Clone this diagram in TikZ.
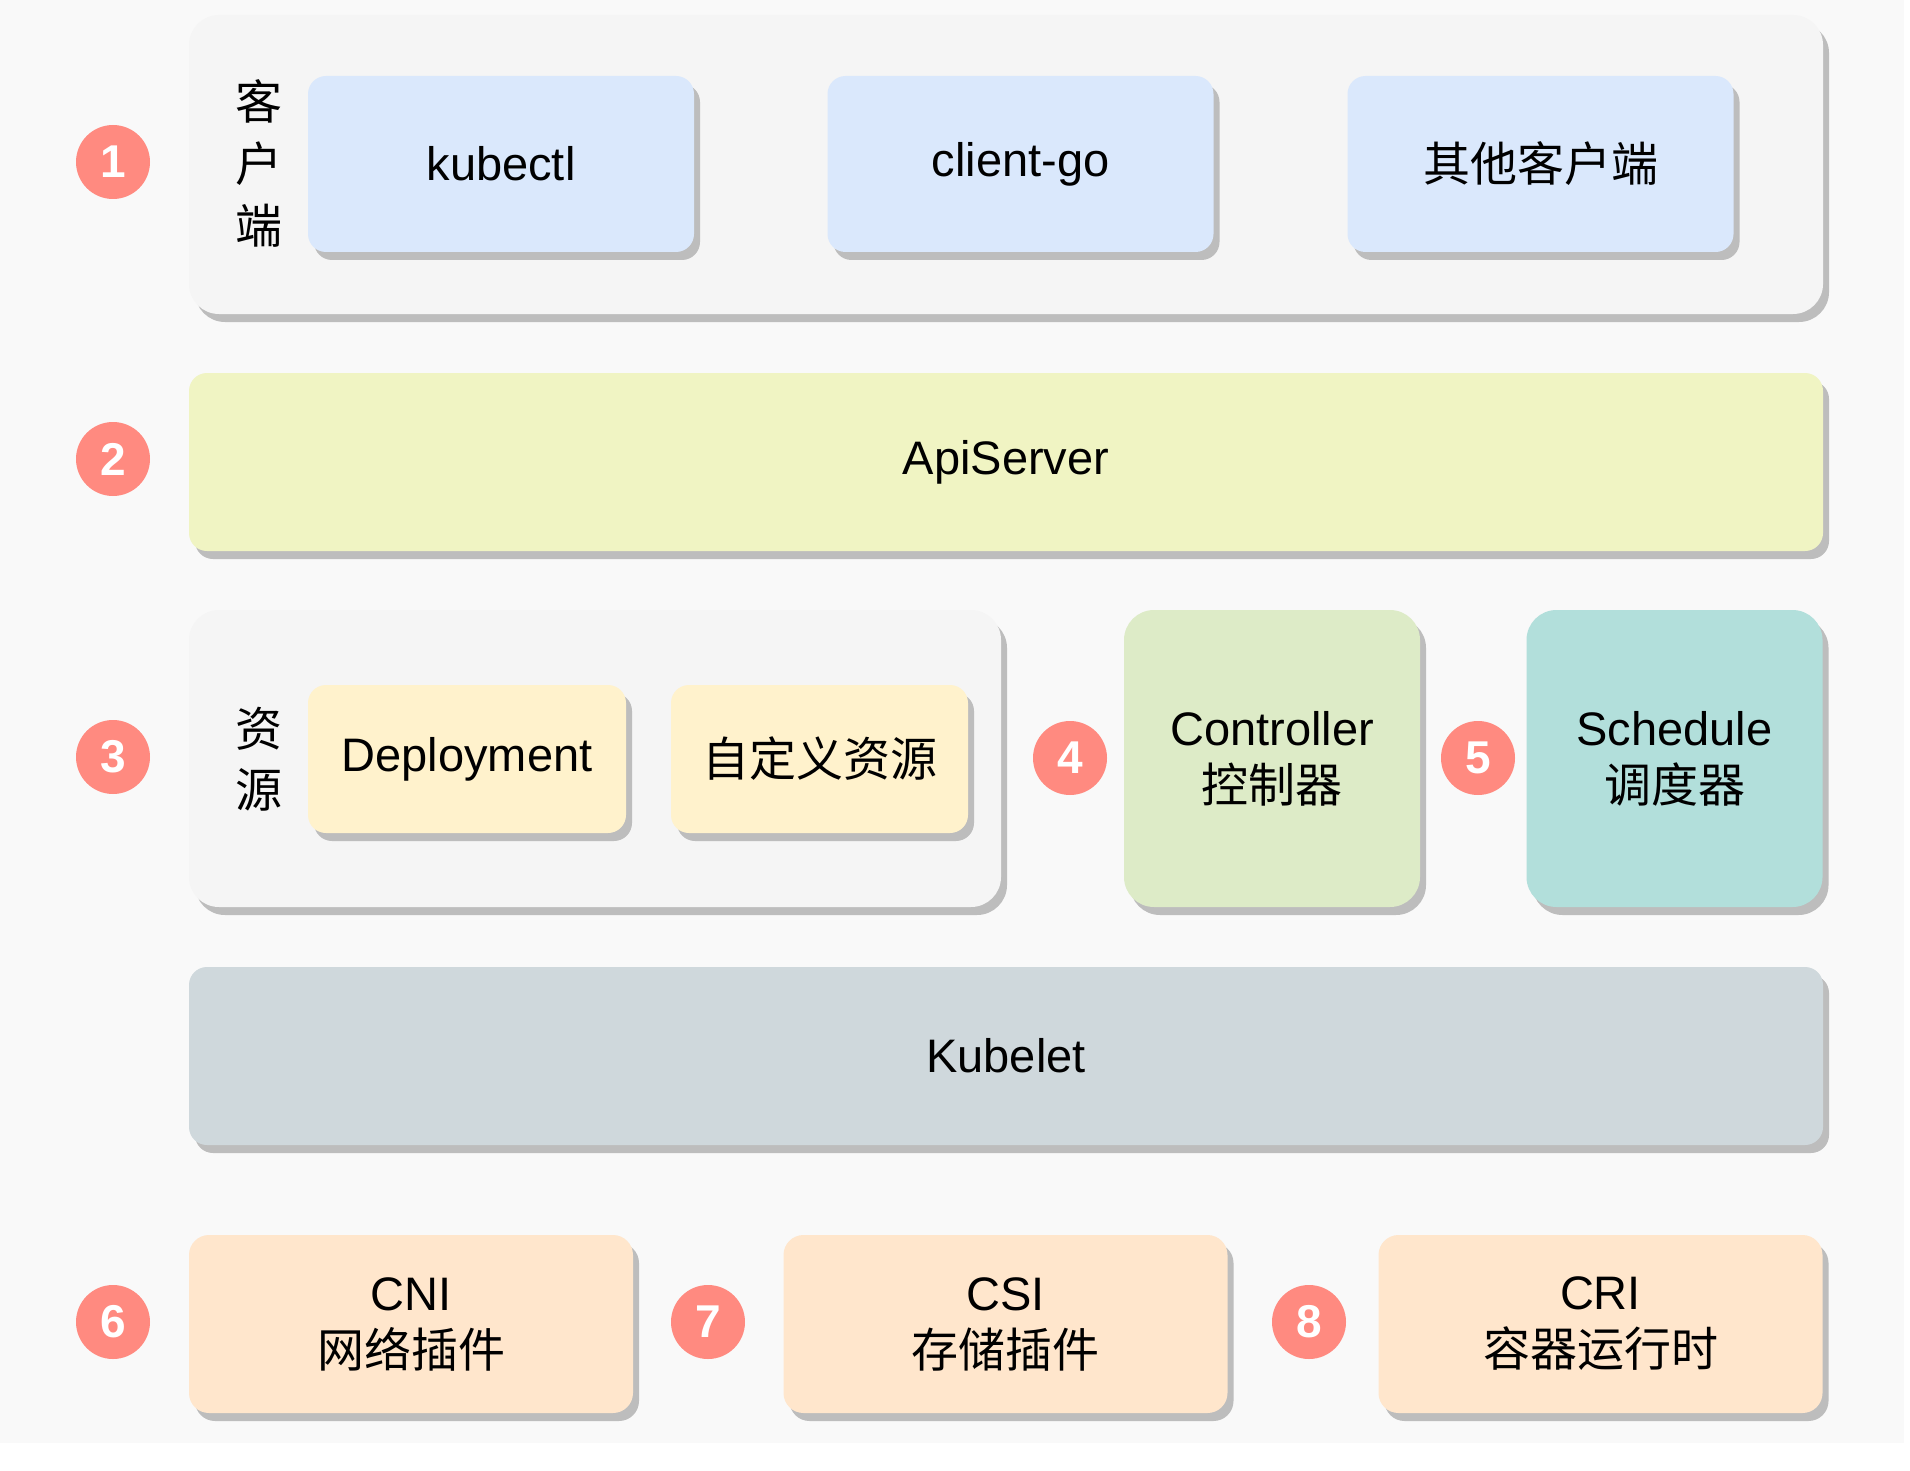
\documentclass[tikz,border=0pt]{standalone}
\usepackage{fontspec}
\setmainfont{Liberation Sans}
\newfontfamily\cjk{Noto Sans CJK SC}
\usetikzlibrary{shadows}

\definecolor{bgcol}{HTML}{F9F9F9}
\definecolor{groupcol}{HTML}{F5F5F5}
\definecolor{shadowcol}{HTML}{BDBDBD}
\definecolor{clientcol}{HTML}{DAE8FC}
\definecolor{apicol}{HTML}{F0F4C3}
\definecolor{rescol}{HTML}{FFF2CC}
\definecolor{ctrlcol}{HTML}{DDEBC7}
\definecolor{schedcol}{HTML}{B2DFDB}
\definecolor{kubeletcol}{HTML}{CFD8DC}
\definecolor{plugcol}{HTML}{FFE6CC}
\definecolor{badgecol}{HTML}{FF8A80}

\begin{document}
\begin{tikzpicture}[x=0.5pt,y=-0.5pt,
  every node/.style={font=\fontsize{23.5}{28.5}\selectfont,text=black},
  layer/.style={rectangle,rounded corners=#1,inner sep=0pt,align=center,
    drop shadow={shadow xshift=3pt,shadow yshift=-4pt,fill=shadowcol,opacity=1}},
  group/.style={layer=15pt,fill=groupcol},
  small/.style={layer=9pt,fill=#1,minimum width=193pt,minimum height=88pt},
  wide/.style={layer=9pt,fill=#1,minimum width=817pt,minimum height=89pt},
  tall/.style={layer=15pt,fill=#1,minimum width=148pt,minimum height=148.5pt},
  plugin/.style={layer=10pt,fill=plugcol,minimum width=222pt,minimum height=89pt},
  badge/.style={circle,fill=badgecol,minimum size=37pt,inner sep=0pt,text=white,
    font=\fontsize{23}{23}\selectfont\bfseries},
  sidelabel/.style={align=center,font={\fontsize{23.5}{31}\cjk}}]

% background and page size
\useasboundingbox (0,0) rectangle (1910,1471);
\fill[bgcol] (0,0) rectangle (1904,1443);

% 1: clients
\node[group,minimum width=817pt,minimum height=149.5pt] (clients) at (1006,164.5) {};
\node[sidelabel] (clientlbl) at (259,163) {客\\户\\端};
\node[small=clientcol] (kubectl) at (501,164) {kubectl};
\node[small=clientcol] (clientgo) at (1020.5,164) {client-go};
\node[small=clientcol] (others) at (1540.5,164) {\cjk 其他客户端};

% 2: api server
\node[wide=apicol] (api) at (1006,462) {ApiServer};

% 3: resources, 4: controller, 5: scheduler
\node[group,minimum width=406pt,minimum height=148.5pt] (resources) at (595,758.5) {};
\node[sidelabel,font={\fontsize{23.5}{30.5}\cjk}] (reslbl) at (259,759) {资\\源};
\node[layer=9pt,fill=rescol,minimum width=159pt,minimum height=74pt] (deploy) at (467,759) {Deployment};
\node[layer=9pt,fill=rescol,minimum width=148.5pt,minimum height=74pt] (crd) at (819.5,759) {\cjk 自定义资源};
\node[tall=ctrlcol] (ctrl) at (1272,758.5) {Controller\\{\cjk 控制器}};
\node[tall=schedcol] (sched) at (1674.5,758.5) {Schedule\\{\cjk 调度器}};

% kubelet
\node[wide=kubeletcol] (kubelet) at (1006,1056) {Kubelet};

% 6-8: plugins
\node[plugin] (cni) at (411,1324) {CNI\\{\cjk 网络插件}};
\node[plugin] (csi) at (1005.5,1324) {CSI\\{\cjk 存储插件}};
\node[plugin] (cri) at (1600.5,1324) {CRI\\{\cjk 容器运行时}};

% number badges
\node[badge] (b1) at (113,162) {1};
\node[badge] (b2) at (113,459) {2};
\node[badge] (b3) at (113,757) {3};
\node[badge] (b4) at (1070,758) {4};
\node[badge] (b5) at (1478,758) {5};
\node[badge] (b6) at (113,1322) {6};
\node[badge] (b7) at (708,1322) {7};
\node[badge] (b8) at (1309,1322) {8};
\end{tikzpicture}
\end{document}
